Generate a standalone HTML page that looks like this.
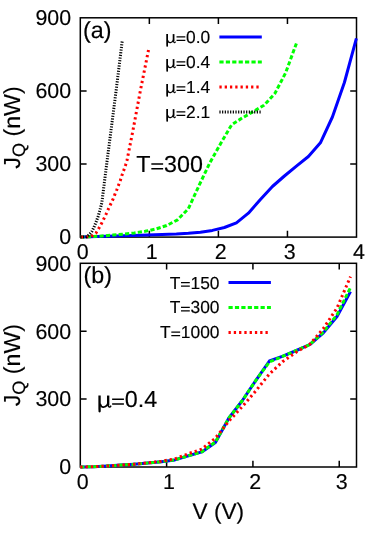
<!DOCTYPE html>
<html><head><meta charset="utf-8"><title>chart</title>
<style>
html,body{margin:0;padding:0;background:#fff;}
body{width:382px;height:534px;overflow:hidden;}
svg{display:block;will-change:transform;opacity:0.999;}
text{font-family:"Liberation Sans",sans-serif;fill:#000;text-rendering:geometricPrecision;stroke:#000;stroke-width:0.15px;}
.t{font-size:21.4px;}
.l{font-size:23.2px;}
.g{font-size:17.4px;}
.a{font-size:23.3px;}
.ms{fill:none;stroke:#000;}
.hid{fill-opacity:0;stroke:none;}
.ax{stroke:#000;stroke-width:1.5;fill:none;}
.c{fill:none;stroke-width:3.0;stroke-linejoin:round;}
</style></head><body>
<svg width="382" height="534" viewBox="0 0 382 534">
<rect width="382" height="534" fill="#fff"/>

<rect class="ax" x="80.3" y="17.8" width="276.2" height="219.29999999999998"/>
<rect class="ax" x="80.3" y="263.3" width="276.2" height="203.7"/>
<path class="ax" d="M80.3,90.90h6.3M356.5,90.90h-6.3M80.3,164.00h6.3M356.5,164.00h-6.3M149.35,237.1v-6.3M149.35,17.8v6.3M218.40,237.1v-6.3M218.40,17.8v6.3M287.45,237.1v-6.3M287.45,17.8v6.3"/>
<path class="ax" d="M80.3,331.20h6.3M356.5,331.20h-6.3M80.3,399.10h6.3M356.5,399.10h-6.3M166.61,467.0v-6.3M166.61,263.3v6.3M252.92,467.0v-6.3M252.92,263.3v6.3M339.24,467.0v-6.3M339.24,263.3v6.3"/>
<polyline class="c" stroke="#0000ff" points="80.4,237.0 140.4,235.2 176.4,234.0 188.4,233.3 200.4,232.2 212.4,230.4 224.4,227.5 236.4,222.8 248.4,213.2 260.4,199.5 272.4,186.5 284.4,176.0 296.4,166.1 308.4,156.5 320.4,142.8 332.4,117.0 344.4,82.5 356.4,38.4"/>
<polyline class="c" stroke="#00ff00" stroke-dasharray="4.2 2.21" points="80.3,237.1 91.1,236.7 101.9,236.0 112.7,235.1 123.5,234.1 134.3,232.9 145.1,231.3 155.9,229.0 166.7,225.5 177.6,219.8 188.4,208.6 199.2,185.2 210.0,162.5 220.8,143.3 231.6,124.8 242.4,117.9 253.2,111.6 264.0,105.3 274.8,93.6 285.6,72.9 296.4,43.4"/>
<polyline class="c" stroke="#ff0000" stroke-dasharray="2.3 2.98" stroke-dashoffset="-0.4" points="80.3,237.0 90.0,236.8 93.0,235.3 96.0,233.0 98.7,228.6 101.2,224.1 103.8,218.9 106.2,213.9 108.3,209.1 110.5,204.5 112.8,199.7 114.7,194.8 116.7,190.0 118.5,185.2 120.3,180.5 121.9,175.4 123.7,170.5 125.5,165.2 127.0,160.4 132.8,131.2 140.5,90.0 148.5,50.0"/>
<polyline class="c" stroke="#000" stroke-dasharray="1.2 1.47" points="80.3,237.0 86.5,236.8 89.5,234.5 91.8,231.6 94.2,226.7 96.3,221.4 98.2,216.2 99.7,210.9 101.8,203.0 107.0,161.5 116.2,90.0 122.3,40.3"/>
<polyline class="c" stroke="#0000ff" points="80.3,467.0 93.8,466.7 107.3,466.0 120.8,465.1 134.3,464.2 147.8,463.1 161.3,461.7 174.9,459.9 188.4,455.8 201.9,451.9 215.4,442.5 228.9,418.0 242.4,400.5 255.9,380.3 269.4,361.0 282.9,356.2 296.4,350.5 309.9,344.5 323.4,332.9 337.0,316.5 350.5,291.6"/>
<polyline class="c" stroke="#00ff00" stroke-dasharray="4.2 2.21" points="80.3,467.0 93.8,466.7 107.3,466.0 120.8,465.1 134.3,464.2 147.8,463.1 161.3,461.7 174.9,459.9 188.4,455.8 201.9,451.7 215.4,442.0 228.9,418.0 242.4,400.5 255.9,380.3 269.4,361.9 282.9,356.2 296.4,350.5 309.9,344.5 323.4,332.0 337.0,314.8 350.5,287.6"/>
<polyline class="c" stroke="#ff0000" stroke-dasharray="2.3 2.98" points="80.3,467.0 93.8,466.7 107.3,466.0 120.8,465.1 134.3,464.2 147.8,462.9 161.3,461.2 174.9,458.9 188.4,453.7 201.9,449.1 215.4,438.1 228.9,421.1 242.4,406.4 255.9,390.7 269.4,374.0 282.9,361.4 296.4,352.0 309.9,344.2 323.4,328.5 337.0,308.0 350.5,276.6"/>
<line class="c" stroke="#0000ff" x1="219.4" x2="261.8" y1="37.1" y2="37.1"/>
<line class="c" stroke="#00ff00" stroke-dasharray="4.2 2.21" x1="219.4" x2="261.8" y1="62.1" y2="62.1"/>
<line class="c" stroke="#ff0000" stroke-dasharray="2.3 2.98" x1="219.4" x2="261.0" y1="87.1" y2="87.1"/>
<line class="c" stroke="#000" stroke-dasharray="1.2 1.47" x1="219.4" x2="261.8" y1="112.1" y2="112.1"/>
<g transform="translate(165.83,42.80) scale(0.01740,-0.01740)"><path d="M25,500L125,500L125,-110C125,-150 132,-180 115,-207C100,-230 55,-230 40,-207C22,-180 32,-150 30,-110L25,-110Z"/><path class="ms" stroke-width="72" d="M100,150C125,40 200,-2 270,8C350,20 420,95 448,190"/><path class="ms" stroke-width="100" d="M445,500L445,75"/><path class="ms" stroke-width="62" d="M445,110C440,25 478,-2 515,10C540,18 555,40 566,68"/></g>
<text class="g hid" x="165.83" y="42.80">μ</text>
<path d="M176.53,36.27h8.80v1.15h-8.80zM176.53,39.81h8.80v1.15h-8.80z"/>
<text class="g hid" x="175.85" y="42.80">=</text>
<text class="g" x="186.01" y="42.80">0.0</text>
<g transform="translate(165.83,67.80) scale(0.01740,-0.01740)"><path d="M25,500L125,500L125,-110C125,-150 132,-180 115,-207C100,-230 55,-230 40,-207C22,-180 32,-150 30,-110L25,-110Z"/><path class="ms" stroke-width="72" d="M100,150C125,40 200,-2 270,8C350,20 420,95 448,190"/><path class="ms" stroke-width="100" d="M445,500L445,75"/><path class="ms" stroke-width="62" d="M445,110C440,25 478,-2 515,10C540,18 555,40 566,68"/></g>
<text class="g hid" x="165.83" y="67.80">μ</text>
<path d="M176.53,61.27h8.80v1.15h-8.80zM176.53,64.81h8.80v1.15h-8.80z"/>
<text class="g hid" x="175.85" y="67.80">=</text>
<text class="g" x="186.01" y="67.80">0.4</text>
<g transform="translate(165.83,92.80) scale(0.01740,-0.01740)"><path d="M25,500L125,500L125,-110C125,-150 132,-180 115,-207C100,-230 55,-230 40,-207C22,-180 32,-150 30,-110L25,-110Z"/><path class="ms" stroke-width="72" d="M100,150C125,40 200,-2 270,8C350,20 420,95 448,190"/><path class="ms" stroke-width="100" d="M445,500L445,75"/><path class="ms" stroke-width="62" d="M445,110C440,25 478,-2 515,10C540,18 555,40 566,68"/></g>
<text class="g hid" x="165.83" y="92.80">μ</text>
<path d="M176.53,86.27h8.80v1.15h-8.80zM176.53,89.81h8.80v1.15h-8.80z"/>
<text class="g hid" x="175.85" y="92.80">=</text>
<text class="g" x="186.01" y="92.80">1.4</text>
<g transform="translate(165.83,117.80) scale(0.01740,-0.01740)"><path d="M25,500L125,500L125,-110C125,-150 132,-180 115,-207C100,-230 55,-230 40,-207C22,-180 32,-150 30,-110L25,-110Z"/><path class="ms" stroke-width="72" d="M100,150C125,40 200,-2 270,8C350,20 420,95 448,190"/><path class="ms" stroke-width="100" d="M445,500L445,75"/><path class="ms" stroke-width="62" d="M445,110C440,25 478,-2 515,10C540,18 555,40 566,68"/></g>
<text class="g hid" x="165.83" y="117.80">μ</text>
<path d="M176.53,111.27h8.80v1.15h-8.80zM176.53,114.81h8.80v1.15h-8.80z"/>
<text class="g hid" x="175.85" y="117.80">=</text>
<text class="g" x="186.01" y="117.80">2.1</text>
<line class="c" stroke="#0000ff" x1="228.5" x2="270.9" y1="282.5" y2="282.5"/>
<line class="c" stroke="#00ff00" stroke-dasharray="4.2 2.21" x1="228.5" x2="270.9" y1="307.5" y2="307.5"/>
<line class="c" stroke="#ff0000" stroke-dasharray="2.3 2.98" x1="228.5" x2="270.3" y1="332.5" y2="332.5"/>
<text class="g" x="169.68" y="288.60">T</text>
<path d="M180.99,282.08h8.80v1.15h-8.80zM180.99,285.61h8.80v1.15h-8.80z"/>
<text class="g hid" x="180.32" y="288.60">=</text>
<text class="g" x="190.48" y="288.60">150</text>
<text class="g" x="169.68" y="313.30">T</text>
<path d="M180.99,306.78h8.80v1.15h-8.80zM180.99,310.31h8.80v1.15h-8.80z"/>
<text class="g hid" x="180.32" y="313.30">=</text>
<text class="g" x="190.48" y="313.30">300</text>
<text class="g" x="160.01" y="338.00">T</text>
<path d="M171.32,331.48h8.80v1.15h-8.80zM171.32,335.01h8.80v1.15h-8.80z"/>
<text class="g hid" x="170.64" y="338.00">=</text>
<text class="g" x="180.80" y="338.00">1000</text>
<text class="t" text-anchor="end" x="71.1" y="25.1">900</text>
<text class="t" text-anchor="end" x="71.1" y="98.2">600</text>
<text class="t" text-anchor="end" x="71.1" y="171.3">300</text>
<text class="t" text-anchor="end" x="71.1" y="244.4">0</text>
<text class="t" text-anchor="end" x="71.1" y="270.6">900</text>
<text class="t" text-anchor="end" x="71.1" y="338.5">600</text>
<text class="t" text-anchor="end" x="71.1" y="406.4">300</text>
<text class="t" text-anchor="end" x="71.1" y="474.3">0</text>
<text class="t" text-anchor="middle" x="82.7" y="259.3">0</text>
<text class="t" text-anchor="middle" x="151.8" y="259.3">1</text>
<text class="t" text-anchor="middle" x="220.8" y="259.3">2</text>
<text class="t" text-anchor="middle" x="289.8" y="259.3">3</text>
<text class="t" text-anchor="middle" x="358.9" y="259.3">4</text>
<text class="t" text-anchor="middle" x="82.7" y="489.2">0</text>
<text class="t" text-anchor="middle" x="169.0" y="489.2">1</text>
<text class="t" text-anchor="middle" x="255.3" y="489.2">2</text>
<text class="t" text-anchor="middle" x="341.6" y="489.2">3</text>
<text class="a" x="83.1" y="37.5">(a)</text>
<text class="a" x="83.5" y="283">(b)</text>
<text class="a" x="136.20" y="172.00">T</text>
<path d="M151.34,163.26h11.79v1.54h-11.79zM151.34,167.99h11.79v1.54h-11.79z"/>
<text class="a hid" x="150.44" y="172.00">=</text>
<text class="a" x="164.04" y="172.00">300</text>
<g transform="translate(97.80,407.20) scale(0.02330,-0.02330)"><path d="M25,500L125,500L125,-110C125,-150 132,-180 115,-207C100,-230 55,-230 40,-207C22,-180 32,-150 30,-110L25,-110Z"/><path class="ms" stroke-width="72" d="M100,150C125,40 200,-2 270,8C350,20 420,95 448,190"/><path class="ms" stroke-width="100" d="M445,500L445,75"/><path class="ms" stroke-width="62" d="M445,110C440,25 478,-2 515,10C540,18 555,40 566,68"/></g>
<text class="a hid" x="97.80" y="407.20">μ</text>
<path d="M112.13,398.46h11.79v1.54h-11.79zM112.13,403.19h11.79v1.54h-11.79z"/>
<text class="a hid" x="111.22" y="407.20">=</text>
<text class="a" x="124.83" y="407.20">0.4</text>
<text class="l" text-anchor="middle" x="218.3" y="518.8" style="font-size:22.7px">V (V)</text>
<text class="l" text-anchor="middle" transform="translate(19.7,127.5) rotate(-90)">J<tspan font-size="18" dy="5.2">Q</tspan><tspan dy="-5.2"> (nW)</tspan></text>
<text class="l" text-anchor="middle" transform="translate(19.7,365.1) rotate(-90)">J<tspan font-size="18" dy="5.2">Q</tspan><tspan dy="-5.2"> (nW)</tspan></text>
</svg></body></html>
